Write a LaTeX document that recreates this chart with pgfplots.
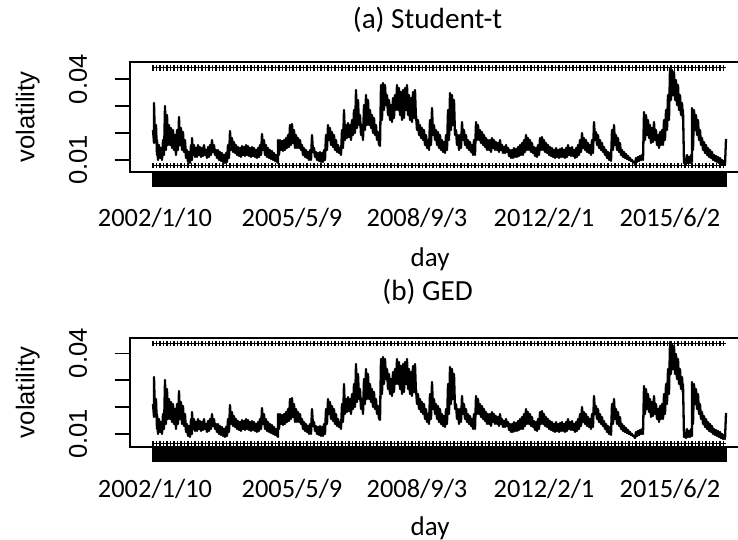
\documentclass[border=0pt]{standalone}
\usepackage{fontspec}
\setmainfont{Carlito}
\newfontfamily\arialfont{Liberation Sans}
\usepackage{pgfplots}
\pgfplotsset{compat=1.18}
\usepackage{pgfplotstable}
\usetikzlibrary{decorations.markings}

% volatility in units of 0.001 (1/1000)
\pgfplotstableread{
x v
0 21.15
1 16.32
1 31.19
2 17.43
3 23.01
4 11.86
4 17.43
5 10.00
6 15.58
7 10.74
8 14.46
9 10.00
10 17.43
11 11.86
12 30.07
13 13.72
14 26.73
15 15.58
16 23.01
17 15.58
18 21.89
19 14.46
20 21.15
21 13.72
22 19.29
23 11.86
24 21.15
25 13.72
26 25.98
27 15.58
28 21.89
29 13.72
30 20.41
31 12.97
32 17.43
33 10.74
34 13.72
35 9.26
36 12.97
37 8.88
38 15.58
39 10.00
39 18.18
40 11.86
41 15.58
42 11.12
43 14.46
44 11.12
45 15.58
46 11.86
47 14.83
48 11.12
49 14.46
50 11.49
51 15.58
52 11.86
53 13.72
54 10.74
55 14.83
56 11.12
57 15.58
58 11.86
59 17.43
60 12.97
61 15.58
62 11.86
63 13.72
64 10.74
65 13.72
66 10.00
67 12.97
68 9.63
69 12.60
70 9.26
71 11.86
72 8.88
73 12.60
74 9.26
75 15.58
76 10.74
77 20.78
78 13.72
79 18.18
80 12.97
81 16.69
82 12.60
83 15.58
84 11.86
85 14.83
86 11.49
87 14.46
88 11.12
89 15.20
90 11.86
91 14.83
92 11.49
93 15.58
94 11.86
95 15.20
96 11.49
97 14.46
98 11.12
99 14.83
100 11.49
101 14.46
102 11.12
103 13.72
104 10.74
105 14.46
106 11.12
107 15.58
108 11.86
109 19.66
110 13.72
111 17.43
112 11.86
113 15.58
114 11.12
115 14.46
116 10.74
117 13.72
118 10.37
119 13.35
120 10.00
121 12.60
122 9.63
123 11.86
124 9.26
124 11.12
125 8.88
125 17.43
126 11.86
127 17.43
128 13.72
129 17.06
130 13.35
131 17.43
132 13.72
133 18.18
134 14.46
135 19.29
136 14.83
137 23.01
138 15.58
139 23.38
140 16.32
141 21.15
142 14.46
143 19.29
144 14.46
145 18.18
146 14.46
147 17.43
148 13.72
149 15.58
150 11.86
151 14.46
152 11.12
153 13.72
154 10.74
155 12.97
156 10.00
157 13.72
158 10.00
159 19.29
160 12.97
161 14.46
162 11.12
163 12.97
164 10.00
165 12.60
166 9.63
167 12.97
168 9.26
169 12.60
170 9.26
171 13.72
172 10.00
173 19.29
174 13.72
175 23.01
176 17.43
177 21.89
178 15.58
179 20.41
180 14.83
181 19.29
182 13.72
183 17.43
184 12.97
185 15.58
186 12.60
187 14.46
188 11.86
189 21.15
190 14.46
191 28.59
192 17.43
193 23.01
194 18.18
195 23.75
196 18.55
197 23.01
198 17.43
199 24.87
200 19.29
201 28.59
202 20.04
203 36.02
204 21.89
205 32.30
206 23.01
207 26.73
208 19.29
209 23.01
210 17.43
211 30.44
212 21.15
213 34.16
214 23.01
215 32.30
216 23.01
217 28.59
218 21.89
219 26.73
220 20.04
221 25.61
222 19.29
223 23.01
224 17.43
225 20.41
226 15.58
226 18.18
227 15.20
228 37.88
229 24.87
230 38.62
231 28.59
232 37.88
233 30.44
234 34.16
235 26.73
236 32.30
237 24.87
238 30.44
239 24.12
240 33.05
241 25.61
242 34.16
243 28.59
244 37.88
245 28.59
246 36.76
247 26.73
248 35.28
249 24.87
250 36.02
251 25.61
252 36.76
253 28.59
254 37.88
255 26.73
256 34.16
257 24.87
258 33.05
259 24.12
260 35.28
261 25.61
262 36.02
263 24.87
263 26.73
264 21.15
265 24.87
266 19.29
267 23.01
268 18.18
269 21.89
270 17.43
271 21.15
272 15.58
273 19.29
274 14.46
275 17.43
276 13.72
277 24.87
278 15.58
279 29.33
280 19.29
281 23.01
282 17.43
283 21.15
284 15.58
285 20.41
286 14.46
287 19.29
288 13.72
289 17.43
290 12.97
291 16.69
292 12.60
293 19.29
294 13.72
295 28.59
296 17.43
297 34.90
298 21.15
299 34.16
300 23.01
301 32.30
302 19.29
303 21.15
304 15.58
305 19.29
306 13.72
307 19.29
308 14.46
309 24.12
310 17.43
311 21.15
312 15.58
313 19.29
314 14.46
315 17.43
316 13.72
317 16.69
318 12.97
319 15.58
320 11.86
321 17.43
322 11.86
323 24.12
324 17.43
325 23.01
326 17.43
327 21.15
328 16.32
329 20.41
330 15.58
331 19.29
332 14.83
333 18.18
334 13.72
335 17.43
336 13.72
337 17.43
338 12.97
339 18.18
340 14.46
341 17.43
342 13.72
343 16.69
344 13.72
345 16.32
346 12.97
347 17.43
348 13.72
349 15.58
350 12.60
351 14.83
352 12.60
353 15.58
354 12.97
355 14.46
356 11.49
357 13.72
358 10.74
359 13.72
360 10.74
361 14.46
362 11.12
363 14.09
364 11.12
365 14.83
366 11.49
367 15.58
368 11.86
369 16.32
370 11.86
371 17.43
372 12.97
373 19.29
374 13.72
375 18.18
376 13.72
377 17.43
378 12.97
379 16.32
380 12.60
381 14.83
382 11.49
383 14.46
384 11.12
385 15.58
386 11.86
387 18.18
388 13.72
389 18.55
390 13.72
391 17.43
392 12.97
393 16.32
394 12.60
395 15.58
396 11.86
397 14.83
398 11.49
399 14.46
400 11.12
401 13.72
402 10.74
403 14.46
404 11.12
405 13.72
406 10.74
407 14.09
408 11.12
409 14.46
410 11.12
411 13.72
412 10.74
413 14.46
414 11.12
415 15.58
416 11.86
417 14.46
418 11.49
419 14.83
420 11.49
421 13.72
422 10.74
423 14.46
424 11.12
425 15.58
426 11.86
427 17.43
428 12.97
429 20.04
430 14.46
431 18.18
432 13.72
433 17.43
434 12.97
435 16.32
436 12.60
437 15.58
438 11.86
439 17.43
440 12.60
441 24.12
442 17.43
443 20.41
444 15.58
445 19.29
446 14.46
447 17.43
448 13.72
449 16.32
450 12.97
451 14.83
452 11.86
453 13.72
454 10.74
455 12.97
456 10.00
457 12.60
458 9.63
459 21.15
460 13.72
461 23.01
462 15.58
463 19.29
464 13.72
465 18.18
466 12.97
467 16.32
468 11.86
469 13.72
470 11.12
471 12.97
472 10.74
473 12.23
474 10.37
475 11.49
476 10.00
477 10.74
478 9.63
479 10.00
480 9.26
481 9.26
482 8.51
483 10.74
484 9.26
485 11.12
486 9.63
487 11.49
488 10.00
489 11.86
490 10.00
491 27.84
492 17.43
493 26.73
494 19.29
495 24.87
496 18.18
497 23.01
498 16.32
499 21.89
500 16.69
501 24.12
502 17.43
503 21.15
504 15.58
505 19.29
506 14.46
507 20.41
508 15.58
509 21.15
510 15.58
511 24.87
512 17.43
513 28.59
514 21.15
515 34.16
516 24.87
517 44.20
518 32.30
519 43.46
520 34.16
521 42.71
522 32.30
523 39.74
524 30.44
525 37.88
526 28.59
527 34.16
528 26.73
529 31.19
530 24.87
530 28.59
531 8.88
532 10.00
533 8.51
534 11.86
535 8.88
536 11.12
537 8.88
538 11.86
539 9.26
539 29.33
540 13.72
541 28.59
542 21.15
543 26.73
544 19.29
545 24.87
546 17.43
547 21.15
548 15.58
549 18.18
550 13.72
551 16.69
552 12.60
553 15.58
554 11.86
555 14.46
556 11.12
557 13.72
558 10.74
559 12.97
560 10.00
561 11.86
562 9.63
563 11.49
564 9.26
565 11.12
566 8.88
567 10.74
568 8.51
569 10.00
570 8.14
571 9.63
572 8.14
573 17.81
}\vol

\pgfplotsset{
  volaxis/.style={
    scale only axis, width=310pt,
    xmin=-23, xmax=597,
    axis line style={line width=0.9pt},
    tick align=outside, tick pos=left,
    major tick length=7.7pt,
    xtick={0,1,...,573},
    xticklabels={},
    x tick style={black, line width=0.55pt},
    y tick style={black, line width=0.8pt},
    extra x ticks={2,139,264,391,517},
    extra x tick labels={2002/1/10,2005/5/9,2008/9/3,2012/2/1,2015/6/2},
    extra x tick style={major tick length=0pt, tick style={draw=none}},
    xticklabel style={font=\fontsize{13.2}{15}\selectfont, anchor=north, inner sep=0pt},
    ytick={10,20,30,40},
    yticklabels={0.01,{},{},0.04},
    yticklabel style={font=\arialfont\fontsize{12.8}{14}\selectfont, rotate=90, anchor=south, inner sep=0pt},
    yticklabel shift=13.5pt,
    xlabel={day},
    ylabel={volatility},
    ylabel style={at={(axis description cs:-0.165,0.5)}, anchor=center, font=\arialfont\fontsize{12.8}{14}\selectfont},
  },
  plusrow/.style={black, line width=0.7pt, postaction={decorate},
    decoration={markings, mark=between positions 0 and 1 step 1.75pt with {\draw[black, line width=0.6pt] (0pt,-1.4pt) -- (0pt,1.4pt);}}},
  volline/.style={black, line width=1.15pt, line join=round},
}

\begin{document}
\begin{tikzpicture}
\begin{axis}[volaxis, at={(65pt,184.15pt)}, anchor=south west, height=54.7pt,
  ymin=5.65, ymax=46.32, title={(a) Student-t},
  xticklabel shift=18pt,
  xlabel style={at={(axis description cs:0.484,0)}, anchor=center, yshift=-44pt, font=\fontsize{13.5}{15}\selectfont},
  title style={at={(axis description cs:0.48,1)}, anchor=center, yshift=15.3pt, font=\fontsize{14.6}{16}\selectfont}]
\addplot[volline] table[x=x, y=v] {\vol};
\addplot[plusrow] coordinates {(0,44.3) (573,44.3)};
\addplot[plusrow] coordinates {(0,7.9) (573,7.9)};
\end{axis}
\begin{axis}[volaxis, at={(65pt,46.65pt)}, anchor=south west, height=54.2pt,
  ymin=5.28, ymax=45.58, title={(b) GED},
  xticklabel shift=16pt,
  xlabel style={at={(axis description cs:0.484,0)}, anchor=center, yshift=-41pt, font=\fontsize{13.5}{15}\selectfont},
  title style={at={(axis description cs:0.48,1)}, anchor=center, yshift=17.2pt, font=\fontsize{14.6}{16}\selectfont}]
\addplot[volline] table[x=x, y=v] {\vol};
\addplot[plusrow] coordinates {(0,43.7) (573,43.7)};
\addplot[plusrow] coordinates {(0,6.5) (573,6.5)};
\end{axis}
\pgfresetboundingbox
\path[use as bounding box] (0,0) rectangle (369pt,270pt);
\end{tikzpicture}
\end{document}
